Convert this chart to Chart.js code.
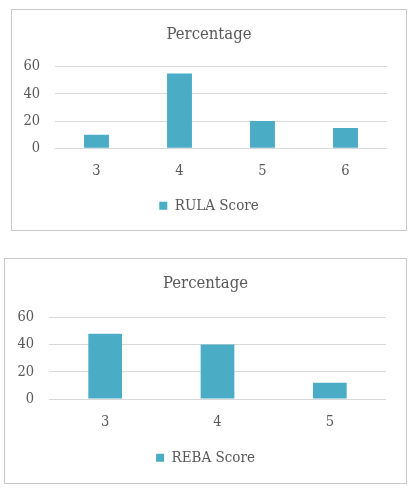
<!DOCTYPE html>
<html>
<head>
<meta charset="utf-8">
<script src="https://cdn.jsdelivr.net/npm/chart.js@4.4.0/dist/chart.umd.min.js"></script>
<style>
  body { margin: 0; background: #fff; }
  .box { position: absolute; box-sizing: border-box; border: 1px solid #c9c9c9; background: #fff; }
  #box1 { left: 11px; top: 9px; width: 396px; height: 222px; }
  #box2 { left: 4px; top: 258px; width: 403px; height: 226px; }
</style>
</head>
<body>
<div class="box" id="box1"><canvas id="rulaChart"></canvas></div>
<div class="box" id="box2"><canvas id="rebaChart"></canvas></div>
<script>
// chart data
const rulaScores = ["3", "4", "5", "6"];
const rulaPercent = [10, 55, 20, 15];
const rebaScores = ["3", "4", "5"];
const rebaPercent = [48, 40, 12];
const yTicks = [0, 20, 40, 60];

const barColor = "#4bacc6";
const textColor = "#595959";
const fontFamily = "'DejaVu Serif Condensed', 'DejaVu Serif', serif";

// g holds the spacing tweaks for each box
function makeChart(canvasId, labels, values, seriesName, g) {
    return new Chart(document.getElementById(canvasId), {
        type: "bar",
        data: {
            labels: labels,
            datasets: [{
                label: seriesName,
                data: values,
                backgroundColor: barColor,
                barPercentage: 0.3,
                categoryPercentage: 1
            }]
        },
        options: {
            responsive: true,
            maintainAspectRatio: false,
            animation: false,
            layout: { padding: { left: 0, right: 0, top: 0, bottom: g.bottom } },
            plugins: {
                title: {
                    display: true,
                    text: "Percentage",
                    color: textColor,
                    font: { family: fontFamily, size: 16.5, weight: "normal" },
                    padding: { top: g.titleTop, bottom: g.titleBottom }
                },
                legend: {
                    position: "bottom",
                    labels: {
                        color: textColor,
                        font: { family: fontFamily, size: 15 },
                        boxWidth: 8,
                        boxHeight: 8,
                        padding: g.legendPad
                    }
                },
                tooltip: { enabled: false }
            },
            scales: {
                x: {
                    grid: { display: false },
                    border: { display: false },
                    ticks: { color: textColor, font: { family: fontFamily, size: 14.5 }, padding: g.xPad }
                },
                y: {
                    min: 0,
                    max: 60,
                    afterBuildTicks: scale => { scale.ticks = yTicks.map(v => ({ value: v })); },
                    afterFit: scale => { scale.width = g.yWidth; },
                    grid: { color: "#d9d9d9", drawTicks: false },
                    border: { display: false },
                    ticks: { color: textColor, font: { family: fontFamily, size: 14.5 }, padding: 15 }
                },
                // empty right axis, only keeps the gap on the right so title/legend stay centred
                yRight: {
                    position: "right",
                    afterFit: scale => { scale.width = g.right; },
                    grid: { display: false },
                    border: { display: false },
                    ticks: { display: false }
                }
            }
        }
    });
}

makeChart("rulaChart", rulaScores, rulaPercent, "RULA Score",
    { yWidth: 43, right: 19, bottom: 6.8, titleTop: 14.6, titleBottom: 22.3, legendPad: 12.5, xPad: 6 });
makeChart("rebaChart", rebaScores, rebaPercent, "REBA Score",
    { yWidth: 44, right: 20, bottom: 7.8, titleTop: 14.6, titleBottom: 23.9, legendPad: 12.6, xPad: 6.6 });
</script>
</body>
</html>
